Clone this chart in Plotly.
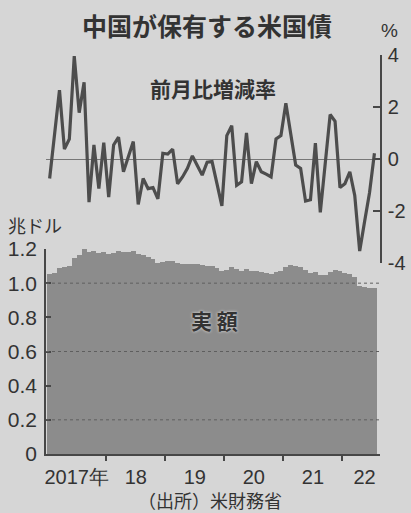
import plotly.graph_objects as go

# ---- data ----
months = list(range(67))  # Jan 2017 .. Jul 2022 (month index)

pct_change = [
    -0.75, 0.9, 2.65, 0.38, 0.77, 3.96, 1.78, 2.95, -1.66, 0.54, -1.14, 0.63,      # 2017
    -1.47, 0.54, 0.84, -0.49, 0.1, 0.67, -1.75, -0.75, -1.14, -1.1, -1.53, 0.22,   # 2018
    0.19, 0.38, -0.95, -0.69, -0.36, 0.12, -0.25, -0.62, -0.12, -0.1, -0.95, -1.8, # 2019
    0.9, 1.28, -1.01, -0.88, 1.0, -0.95, -0.1, -0.49, -0.58, -0.69, 0.77, 0.9,     # 2020
    2.14, 1.0, -0.23, -0.36, -1.62, -1.57, 0.61, -2.05, -0.1, 1.71, 1.45, -1.1,    # 2021
    -0.95, -0.49, -1.4, -3.54, -2.4, -1.3, 0.22,                                   # 2022
]

holdings = [
    1.051, 1.059, 1.088, 1.092, 1.102, 1.147, 1.166, 1.200, 1.180, 1.189, 1.176, 1.185,
    1.168, 1.177, 1.188, 1.182, 1.183, 1.191, 1.171, 1.165, 1.151, 1.139, 1.121, 1.123,
    1.127, 1.131, 1.121, 1.113, 1.110, 1.112, 1.110, 1.104, 1.102, 1.100, 1.090, 1.070,
    1.079, 1.092, 1.082, 1.074, 1.083, 1.074, 1.073, 1.068, 1.062, 1.054, 1.063, 1.072,
    1.095, 1.104, 1.100, 1.096, 1.078, 1.062, 1.068, 1.047, 1.047, 1.065, 1.080, 1.069,
    1.060, 1.055, 1.039, 0.985, 0.978, 0.972, 0.972,
]

year_label_pos = [5.5, 17.5, 29.5, 41.5, 53.5, 64]
year_labels = ["2017年", "18", "19", "20", "21", "22"]
year_bounds = [11.5, 23.5, 35.5, 47.5, 59.5]

pct_ticks = [-4, -2, 0, 2, 4]
pct_ticktext = ["-4", "-2", "0", "2", "4"]
amt_ticks = [0, 0.2, 0.4, 0.6, 0.8, 1.0, 1.2]
amt_ticktext = ["0", "0.2", "0.4", "0.6", "0.8", "1.0", "1.2"]
amt_grid = [0.2, 0.6, 1.0]

# ---- styling ----
W, H = 411, 513
BG = "#d6d6d6"
FILL = "#8c8c8c"
LINE = "#4d4d4d"
AX = "#474747"
TXT = "#333333"
NUM_FONT = "Liberation Sans, Arial, sans-serif"
JP_FONT = "Noto Sans CJK JP, sans-serif"

def px(x):
    return x / W

def py(y):
    return 1 - y / H

xdom = [px(46), px(380)]
xrange_ = [-0.74, 67.13]

fig = go.Figure()

fig.add_trace(go.Bar(
    x=months, y=holdings, xaxis="x2", yaxis="y2",
    marker=dict(color=FILL, line=dict(width=0)), width=1.0,
    hoverinfo="skip", showlegend=False,
))

fig.add_trace(go.Scatter(
    x=months, y=pct_change, xaxis="x", yaxis="y", mode="lines",
    line=dict(color=LINE, width=3.2), hoverinfo="skip", showlegend=False,
))

for g in amt_grid:
    fig.add_shape(type="line", xref="x2 domain", yref="y2", x0=0, x1=1, y0=g, y1=g,
                  line=dict(color="#5e5e5e", width=1, dash="dot"), layer="above")

fig.update_layout(
    width=W, height=H, margin=dict(l=0, r=0, t=0, b=0, pad=0, autoexpand=False),
    paper_bgcolor=BG, plot_bgcolor="rgba(0,0,0,0)",
    bargap=0, showlegend=False,
    font=dict(family=NUM_FONT, color=TXT, size=20),
    xaxis=dict(domain=xdom, range=xrange_, visible=False, anchor="y", automargin=False),
    yaxis=dict(domain=[py(263), py(55)], range=[-4, 4], anchor="x", side="right",
               automargin=False,
               tickmode="array", tickvals=pct_ticks, ticktext=pct_ticktext,
               showline=True, linecolor=AX, linewidth=1.5,
               ticks="inside", ticklen=7, tickcolor=AX, tickwidth=1.5,
               showgrid=False, zeroline=True, zerolinecolor="#777777", zerolinewidth=1.3,
               tickfont=dict(family=NUM_FONT, size=20, color=TXT), ticklabelstandoff=2),
    xaxis2=dict(domain=xdom, range=xrange_, anchor="y2", automargin=False,
                tickmode="array", tickvals=year_label_pos, ticktext=year_labels,
                ticks="", showline=True, linecolor=AX, linewidth=1.5, showgrid=False,
                zeroline=False, ticklabelstandoff=4,
                tickfont=dict(family=NUM_FONT, size=20, color=TXT),
                minor=dict(tickmode="array", tickvals=year_bounds, ticks="outside",
                           ticklen=5, tickcolor=AX, tickwidth=1.5, showgrid=False)),
    yaxis2=dict(domain=[py(454), py(249)], range=[0, 1.2], anchor="x2", side="left",
                automargin=False,
                tickmode="array", tickvals=amt_ticks, ticktext=amt_ticktext,
                showline=True, linecolor=AX, linewidth=1.5,
                ticks="inside", ticklen=5, tickcolor=AX, tickwidth=1.5,
                showgrid=False, zeroline=False, ticklabelstandoff=3,
                tickfont=dict(family=NUM_FONT, size=21, color=TXT)),
)

def note(text, x, y, size, bold=False, shadow=None, family=JP_FONT):
    f = dict(family=family, size=size, color=TXT)
    if bold:
        f["weight"] = "bold"
    if shadow:
        f["shadow"] = shadow
    fig.add_annotation(text=text, x=px(x), y=py(y), xref="paper", yref="paper",
                       showarrow=False, xanchor="center", yanchor="middle", font=f)

note("中国が保有する米国債", 207, 25, 25, bold=True)
note("%", 389, 30, 19, family=NUM_FONT)
note("前月比増減率", 213, 88, 21, bold=True)
note("兆ドル", 35, 225, 18)
note("実 額", 214, 320, 21, bold=True, shadow="0px 0px 3px #e8e8e8")
note("（出所）米財務省", 210, 500, 18)

fig.write_html("out.html")
